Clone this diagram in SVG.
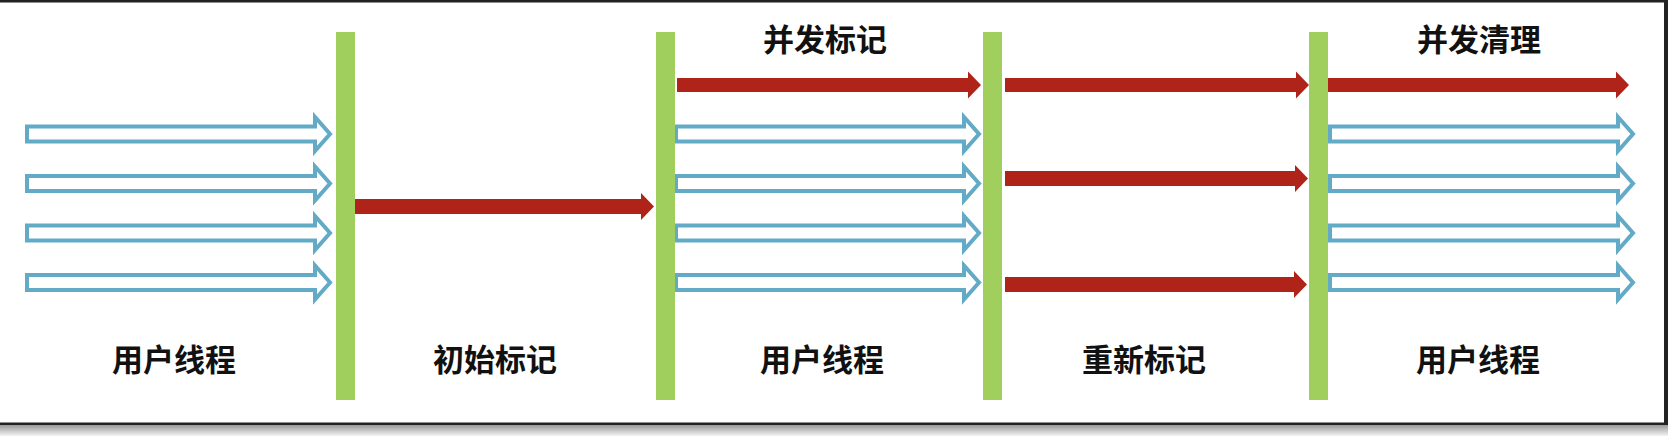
<svg xmlns="http://www.w3.org/2000/svg" width="1668" height="436" viewBox="0 0 1668 436">
<defs>
<linearGradient id="sh" x1="0" y1="0" x2="0" y2="1">
<stop offset="0" stop-color="#9a9a9a"/>
<stop offset="1" stop-color="#f4f4f4"/>
</linearGradient>
<style>
.bar{fill:#a0cf5e}
.red{fill:#b02318}
.blue{fill:#ffffff;stroke:#62aac6;stroke-width:4;stroke-linejoin:miter}
.lbl{font-family:"Noto Sans CJK SC","Noto Sans CJK TC",sans-serif;font-weight:bold;font-size:31px;fill:#111;text-anchor:middle}
</style>
</defs>
<rect x="0" y="0" width="1668" height="436" fill="#ffffff"/>
<rect x="0" y="425" width="1668" height="11" fill="url(#sh)"/>
<rect x="0" y="0" width="1668" height="2.5" fill="#222"/>
<rect x="0" y="422.5" width="1665" height="2.5" fill="#222"/>
<rect x="1664" y="0" width="4" height="425" fill="#222"/>

<g id="connectors">
<path class="blue" d="M27,126.5 H315 V117 L330,134 L315,151 V141.5 H27 Z"/>
<path class="blue" d="M27,176 H315 V166.5 L330,183.5 L315,200.5 V191 H27 Z"/>
<path class="blue" d="M27,225.5 H315 V216 L330,233 L315,250 V240.5 H27 Z"/>
<path class="blue" d="M27,275 H315 V265.5 L330,282.5 L315,299.5 V290 H27 Z"/>

<path class="red" d="M351,199 H641 V193 L654,206.5 L641,220 V214 H351 Z"/>

<path class="red" d="M677,78 H968 V71.5 L981,85 L968,98.5 V92 H677 Z"/>
<path class="blue" d="M676,126.5 H964 V117 L979,134 L964,151 V141.5 H676 Z"/>
<path class="blue" d="M676,176 H964 V166.5 L979,183.5 L964,200.5 V191 H676 Z"/>
<path class="blue" d="M676,225.5 H964 V216 L979,233 L964,250 V240.5 H676 Z"/>
<path class="blue" d="M676,275 H964 V265.5 L979,282.5 L964,299.5 V290 H676 Z"/>

<path class="red" d="M1005,78 H1296 V71.5 L1309,85 L1296,98.5 V92 H1005 Z"/>
<path class="red" d="M1005,171 H1295 V165 L1308,178.5 L1295,192 V186 H1005 Z"/>
<path class="red" d="M1005,277 H1294 V271 L1307,284.5 L1294,298 V292 H1005 Z"/>

<path class="red" d="M1327,78 H1616 V71.5 L1629,85 L1616,98.5 V92 H1327 Z"/>
<path class="blue" d="M1330,126.5 H1618 V117 L1633,134 L1618,151 V141.5 H1330 Z"/>
<path class="blue" d="M1330,176 H1618 V166.5 L1633,183.5 L1618,200.5 V191 H1330 Z"/>
<path class="blue" d="M1330,225.5 H1618 V216 L1633,233 L1618,250 V240.5 H1330 Z"/>
<path class="blue" d="M1330,275 H1618 V265.5 L1633,282.5 L1618,299.5 V290 H1330 Z"/>
</g>

<g id="bar1"><rect class="bar" x="336" y="32" width="19" height="368"/></g>
<g id="bar2"><rect class="bar" x="656" y="32" width="19" height="368"/></g>
<g id="bar3"><rect class="bar" x="983" y="32" width="19" height="368"/></g>
<g id="bar4"><rect class="bar" x="1309" y="32" width="19" height="368"/></g>

<g id="label-user1"><text class="lbl" x="174" y="371">用户线程</text></g>
<g id="label-initial"><text class="lbl" x="495" y="371">初始标记</text></g>
<g id="label-user2"><text class="lbl" x="822" y="371">用户线程</text></g>
<g id="label-remark"><text class="lbl" x="1144" y="371">重新标记</text></g>
<g id="label-user3"><text class="lbl" x="1478" y="371">用户线程</text></g>
<g id="label-concmark"><text class="lbl" x="825" y="51">并发标记</text></g>
<g id="label-concsweep"><text class="lbl" x="1479" y="51">并发清理</text></g>
</svg>
